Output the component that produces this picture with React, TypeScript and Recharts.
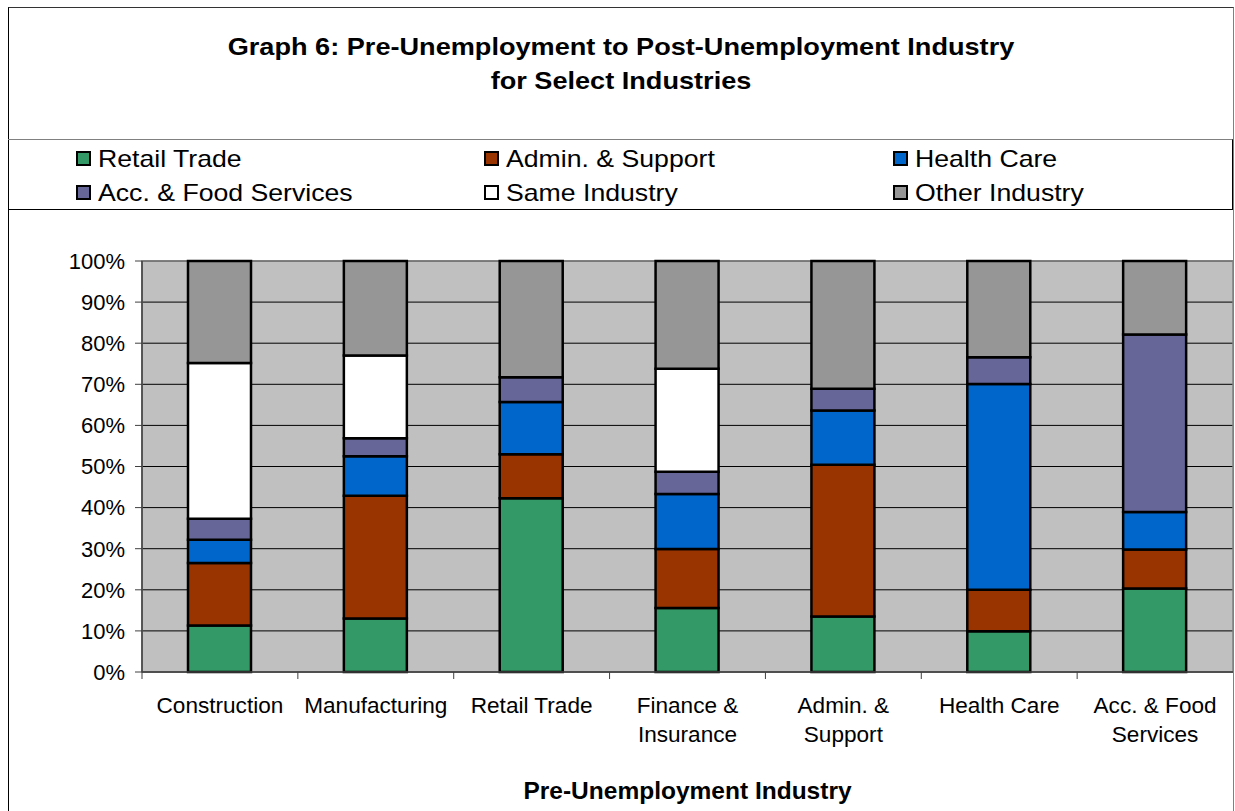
import React from "react";
import {
  BarChart,
  Bar,
  XAxis,
  YAxis,
  CartesianGrid,
  ReferenceArea,
} from "recharts";

// Pre-unemployment industries (line breaks follow the axis wrapping)
const CATEGORIES = [
  "Construction",
  "Manufacturing",
  "Retail Trade",
  "Finance &\nInsurance",
  "Admin. &\nSupport",
  "Health Care",
  "Acc. & Food\nServices",
];

// Share (%) going to each post-unemployment industry
const RETAIL_TRADE = [11.3, 13.0, 42.3, 15.6, 13.5, 9.9, 20.3];
const ADMIN_SUPPORT = [15.2, 29.9, 10.7, 14.3, 36.9, 10.1, 9.5];
const HEALTH_CARE = [5.7, 9.6, 12.7, 13.4, 13.2, 50.1, 9.1];
const ACC_FOOD = [5.1, 4.4, 6.0, 5.4, 5.3, 6.5, 43.2];
const SAME_INDUSTRY = [37.9, 20.1, 0, 25.1, 0, 0, 0];
const OTHER_INDUSTRY = [24.8, 23.0, 28.3, 26.2, 31.1, 23.4, 17.9];

const Y_TICKS = [0, 10, 20, 30, 40, 50, 60, 70, 80, 90, 100];

const SERIES = [
  { key: "retail", name: "Retail Trade", color: "#339966", values: RETAIL_TRADE },
  { key: "admin", name: "Admin. & Support", color: "#993300", values: ADMIN_SUPPORT },
  { key: "health", name: "Health Care", color: "#0066CC", values: HEALTH_CARE },
  { key: "accfood", name: "Acc. & Food Services", color: "#666699", values: ACC_FOOD },
  { key: "same", name: "Same Industry", color: "#FFFFFF", values: SAME_INDUSTRY },
  { key: "other", name: "Other Industry", color: "#969696", values: OTHER_INDUSTRY },
];

const data = CATEGORIES.map((category, i) => {
  const row: Record<string, string | number> = { category };
  SERIES.forEach((s) => {
    row[s.key] = s.values[i];
  });
  return row;
});

const FONT = "'Liberation Sans', Arial, Helvetica, sans-serif";

// Tick mark sits on the band boundary, label is centred under the bar
function CategoryTick(props: any) {
  const { x, y, payload } = props;
  const half = payload.offset ?? 0;
  const lines = String(payload.value).split("\n");
  return (
    <g>
      <line x1={x - half} x2={x - half} y1={y} y2={y + 7} stroke="#404040" />
      <text x={x} y={y + 41} textAnchor="middle" fontSize={22.6} fontFamily={FONT} fill="#000">
        {lines.map((line, i) => (
          <tspan key={i} x={x} dy={i === 0 ? 0 : 29}>
            {line}
          </tspan>
        ))}
      </text>
    </g>
  );
}

// legend column x positions and row tops
const LEGEND_COLS = [76, 484, 893];
const LEGEND_ROWS = [151, 185];

export default function App() {
  return (
    <div
      style={{
        position: "absolute",
        left: 0,
        top: 0,
        width: 1235,
        height: 811,
        background: "#fff",
        fontFamily: FONT,
        overflow: "hidden",
      }}
    >
      <BarChart
        width={1235}
        height={811}
        data={data}
        margin={{ top: 261, right: 2, bottom: 0, left: 0 }}
        barSize={63}
      >
        <CartesianGrid
          horizontal
          vertical={false}
          stroke="#000"
          strokeWidth={1}
          fill="#C0C0C0"
          fillOpacity={1}
        />
        <XAxis
          dataKey="category"
          height={139}
          axisLine={{ stroke: "#404040", strokeWidth: 1.5 }}
          tickLine={false}
          tickSize={0}
          tickMargin={0}
          interval={0}
          tick={<CategoryTick />}
        />
        <YAxis
          width={142}
          domain={[0, 100]}
          ticks={Y_TICKS}
          interval={0}
          tickFormatter={(v: number) => `${v}%`}
          axisLine={{ stroke: "#404040", strokeWidth: 1.5 }}
          tickLine={{ stroke: "#404040" }}
          tickSize={7}
          tickMargin={10}
          tick={{ fontSize: 22, fontFamily: FONT, fill: "#000" }}
        />
        {SERIES.map((s) => (
          <Bar
            key={s.key}
            dataKey={s.key}
            name={s.name}
            stackId="a"
            fill={s.color}
            stroke="#000"
            strokeWidth={2.5}
            isAnimationActive={false}
          />
        ))}
        <ReferenceArea
          x1={CATEGORIES[0]}
          x2={CATEGORIES[CATEGORIES.length - 1]}
          y1={0}
          y2={100}
          fill="none"
          stroke="#808080"
          strokeWidth={1.5}
        />
      </BarChart>

      {/* chart frame */}
      <div
        style={{
          position: "absolute",
          left: 8,
          top: 7,
          width: 1226,
          height: 820,
          borderLeft: "1.5px solid #000",
          borderTop: "1.5px solid #333",
          borderRight: "1.5px solid #808080",
          boxSizing: "border-box",
          pointerEvents: "none",
        }}
      />

      {/* title */}
      <div
        style={{
          position: "absolute",
          left: 8,
          width: 1226,
          top: 30,
          textAlign: "center",
          fontWeight: "bold",
          fontSize: 24,
          lineHeight: "34px",
          color: "#000",
          transform: "scaleX(1.13)",
          transformOrigin: "center",
        }}
      >
        Graph 6: Pre-Unemployment to Post-Unemployment Industry
        <br />
        for Select Industries
      </div>

      {/* legend box */}
      <div
        style={{
          position: "absolute",
          left: 8,
          top: 139,
          width: 1225,
          height: 71,
          borderTop: "1.5px solid #808080",
          borderRight: "1.5px solid #000",
          borderBottom: "1.5px solid #000",
          boxSizing: "border-box",
        }}
      />
      {SERIES.map((s, i) => {
        const col = i % 3;
        const row = Math.floor(i / 3);
        return (
          <div
            key={s.key}
            style={{
              position: "absolute",
              left: LEGEND_COLS[col],
              top: LEGEND_ROWS[row],
              display: "flex",
              alignItems: "center",
              height: 15,
              whiteSpace: "nowrap",
            }}
          >
            <span
              style={{
                display: "inline-block",
                width: 15,
                height: 15,
                boxSizing: "border-box",
                background: s.color,
                border: "2.5px solid #000",
                marginRight: 7,
              }}
            />
            <span
              style={{
                fontSize: 24,
                lineHeight: "15px",
                color: "#000",
                display: "inline-block",
                transform: "scaleX(1.11)",
                transformOrigin: "left center",
              }}
            >
              {s.name}
            </span>
          </div>
        );
      })}

      {/* x-axis title */}
      <div
        style={{
          position: "absolute",
          left: 142,
          width: 1091,
          top: 777,
          textAlign: "center",
          fontWeight: "bold",
          fontSize: 24.5,
          lineHeight: "28px",
          color: "#000",
        }}
      >
        Pre-Unemployment Industry
      </div>
    </div>
  );
}
